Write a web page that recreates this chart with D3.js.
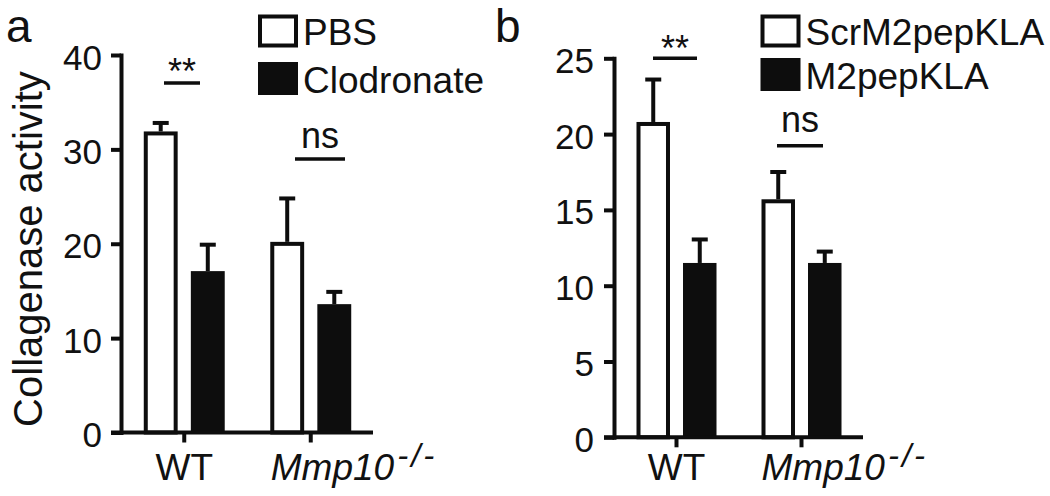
<!DOCTYPE html>
<html>
<head>
<meta charset="utf-8">
<script src="https://cdn.jsdelivr.net/npm/d3@7"></script>
<style>
  html, body { margin: 0; padding: 0; background: #fff; }
  svg { display: block; }
  text { font-family: "Liberation Sans", Arial, Helvetica, sans-serif; fill: #111; }
</style>
</head>
<body>
<svg id="chart" width="1050" height="496"></svg>
<script>
// ---------- data ----------
const groups = ["WT", "Mmp10"];
const groupSuperscript = ["", "-/-"];

// Panel a
const seriesA = ["PBS", "Clodronate"];
const meanA_PBS = [31.9, 20.2];
const errA_PBS = [0.9, 4.6];
const meanA_Clod = [17.1, 13.6];
const errA_Clod = [2.8, 1.3];
const ticksA = [0, 10, 20, 30, 40];
const sigA = ["**", "ns"];

// Panel b
const seriesB = ["ScrM2pepKLA", "M2pepKLA"];
const meanB_Scr = [20.8, 15.7];
const errB_Scr = [2.8, 1.8];
const meanB_M2 = [11.5, 11.5];
const errB_M2 = [1.55, 0.75];
const ticksB = [0, 5, 10, 15, 20, 25];
const sigB = ["**", "ns"];

const yLabel = "Collagenase activity";

// ---------- drawing ----------
const svg = d3.select("#chart");
const INK = "#0d0d0d";
const SW = 4;

function drawPanel(cfg) {
  const g = svg.append("g");
  const y = d3.scaleLinear().domain([0, cfg.ymax]).range([cfg.yBottom, cfg.yTop]);
  const xg = d3.scaleBand().domain(groups).range([cfg.xLeft, cfg.xRight])
    .paddingInner(0.36).paddingOuter(0.18);
  const xs = d3.scaleBand().domain(cfg.series).range([0, xg.bandwidth()]).paddingInner(0.28);

  // bars
  const rows = [];
  groups.forEach((grp, i) => {
    cfg.series.forEach((s, j) => {
      rows.push({ grp, s, j, v: cfg.means[j][i], e: cfg.errs[j][i] });
    });
  });

  rows.forEach(d => {
    const x0 = xg(d.grp) + xs(d.s);
    const bw = xs.bandwidth();
    const cx = x0 + bw / 2;
    // error bar (upper only)
    g.append("line").attr("x1", cx).attr("x2", cx)
      .attr("y1", y(d.v)).attr("y2", y(d.v + d.e))
      .attr("stroke", INK).attr("stroke-width", SW);
    g.append("line").attr("x1", cx - 8).attr("x2", cx + 8)
      .attr("y1", y(d.v + d.e)).attr("y2", y(d.v + d.e))
      .attr("stroke", INK).attr("stroke-width", SW);
    if (d.j === 0) {
      g.append("rect")
        .attr("x", x0 + SW / 2).attr("width", bw - SW)
        .attr("y", y(d.v) + SW / 2).attr("height", y(0) - y(d.v) - SW / 2)
        .attr("fill", "#fff").attr("stroke", INK).attr("stroke-width", SW);
    } else {
      g.append("rect")
        .attr("x", x0).attr("width", bw)
        .attr("y", y(d.v)).attr("height", y(0) - y(d.v))
        .attr("fill", INK);
    }
  });

  // y axis
  const ya = g.append("g").attr("transform", `translate(${cfg.xLeft},0)`)
    .call(d3.axisLeft(y).tickValues(cfg.ticks).tickSize(10).tickSizeOuter(0).tickPadding(cfg.tickPad));
  ya.selectAll("path.domain").attr("stroke", INK).attr("stroke-width", SW).attr("stroke-linecap", "square");
  ya.selectAll(".tick line").attr("stroke", INK).attr("stroke-width", SW);
  ya.selectAll(".tick text").attr("font-size", 35).attr("dy", "0.40em")
    .attr("font-family", '"Liberation Sans", Arial, sans-serif').attr("fill", "#111");

  // x axis
  const xa = g.append("g").attr("transform", `translate(0,${y(0)})`)
    .call(d3.axisBottom(xg).tickSize(10).tickSizeOuter(0).tickFormat(() => ""));
  xa.select("path.domain").remove();
  xa.selectAll(".tick line").attr("stroke", INK).attr("stroke-width", SW);
  g.append("line").attr("x1", cfg.xLeft - 10).attr("x2", cfg.xRight - 1)
    .attr("y1", y(0)).attr("y2", y(0)).attr("stroke", INK).attr("stroke-width", SW);

  // category labels
  groups.forEach((grp, i) => {
    const cx = xg(grp) + xg.bandwidth() / 2;
    if (!groupSuperscript[i]) {
      g.append("text").attr("x", cx).attr("y", 480).attr("text-anchor", "middle")
        .attr("font-size", 37).text(grp);
    } else {
      const t = g.append("text").attr("x", cx - 40).attr("y", 480).attr("font-size", 37);
      t.append("tspan").attr("font-style", "italic").text(grp);
      t.append("tspan").attr("font-style", "italic").attr("font-size", 33)
        .attr("dy", -13).attr("dx", 3).attr("letter-spacing", 3).text(groupSuperscript[i]);
    }
  });

  // significance markers
  cfg.sig.forEach((s, i) => {
    const m = cfg.sigPos[i];
    g.append("line").attr("x1", m.x1).attr("x2", m.x2).attr("y1", m.ly).attr("y2", m.ly)
      .attr("stroke", INK).attr("stroke-width", 3.5);
    g.append("text").attr("x", (m.x1 + m.x2) / 2).attr("y", m.ty)
      .attr("text-anchor", "middle").attr("font-size", 36).text(s);
  });

  // legend
  cfg.series.forEach((s, j) => {
    const ly = cfg.legendY[j];
    if (j === 0) {
      g.append("rect").attr("x", cfg.legendX + SW / 2).attr("y", ly + SW / 2)
        .attr("width", 40 - SW).attr("height", 33 - SW)
        .attr("fill", "#fff").attr("stroke", INK).attr("stroke-width", SW);
    } else {
      g.append("rect").attr("x", cfg.legendX).attr("y", ly)
        .attr("width", 40).attr("height", 33).attr("fill", INK);
    }
    g.append("text").attr("x", cfg.legendX + 45).attr("y", ly + 30.5)
      .attr("font-size", 37).text(s);
  });

  // panel letter
  g.append("text").attr("x", cfg.letterX).attr("y", 42).attr("font-size", 46).text(cfg.letter);
}

drawPanel({
  letter: "a", letterX: 6,
  series: seriesA, means: [meanA_PBS, meanA_Clod], errs: [errA_PBS, errA_Clod],
  ymax: 40, ticks: ticksA, yBottom: 432.5, yTop: 55,
  xLeft: 121, xRight: 374, tickPad: 9,
  sig: sigA,
  sigPos: [{ x1: 164, x2: 200, ly: 83, ty: 84 }, { x1: 295, x2: 345, ly: 159, ty: 148 }],
  legendX: 258, legendY: [14.5, 62]
});

drawPanel({
  letter: "b", letterX: 495,
  series: seriesB, means: [meanB_Scr, meanB_M2], errs: [errB_Scr, errB_M2],
  ymax: 25, ticks: ticksB, yBottom: 437.3, yTop: 58.3,
  xLeft: 614, xRight: 864, tickPad: 10,
  sig: sigB,
  sigPos: [{ x1: 653, x2: 697, ly: 58.3, ty: 61 }, { x1: 777, x2: 823, ly: 145.7, ty: 131.7 }],
  legendX: 760.5, legendY: [14.5, 58]
});

// y axis title (panel a)
svg.append("text").attr("transform", "translate(42,249) rotate(-90)")
  .attr("text-anchor", "middle").attr("font-size", 40).text(yLabel);
</script>
</body>
</html>
